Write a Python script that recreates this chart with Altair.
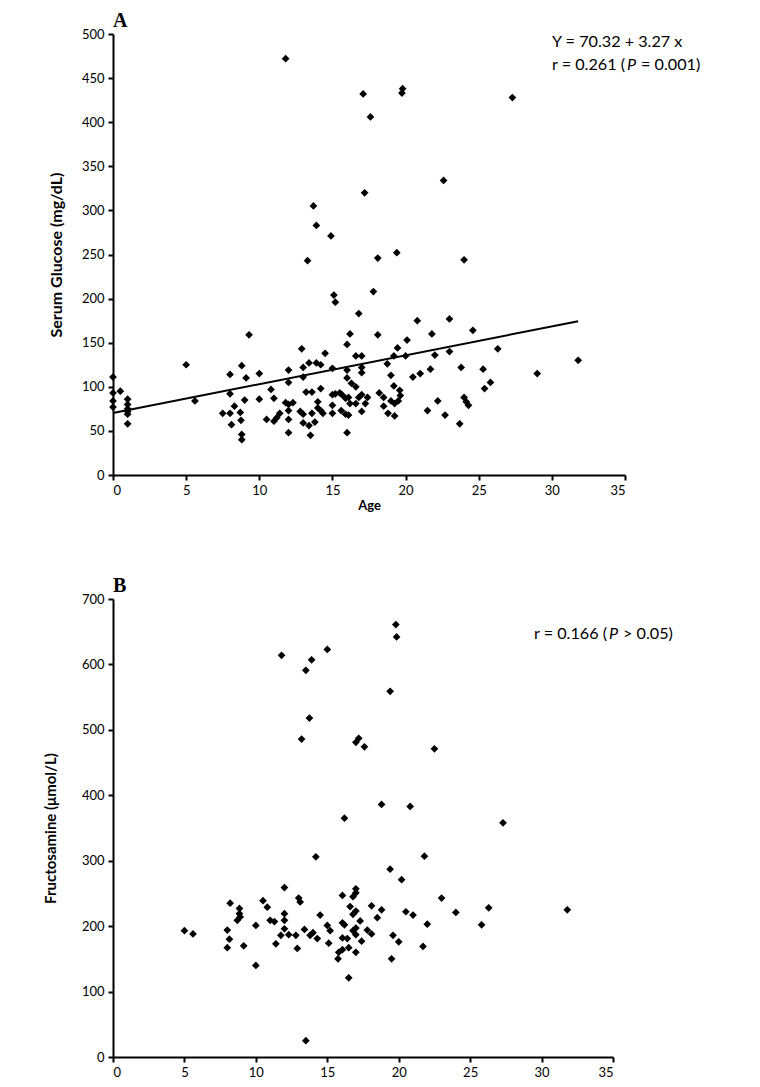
import altair as alt
import pandas as pd

# ---------------- Panel A data: age vs serum glucose ----------------
age_a = [0, 0, 0, 0, 0.5, 1, 1, 1, 1, 1, 1,
         5.0, 5.6, 7.5, 8.0, 8.0, 8.0, 8.1, 8.3, 8.7, 8.8, 8.75, 8.8, 8.8, 9.0, 9.1, 9.3,
         10.0, 10.0, 10.5, 10.8, 11.0, 11.0, 11.2, 11.4, 11.8, 11.8,
         12.0, 12.0, 12.0, 12.0, 12.0, 12.0, 12.3, 12.8, 12.9,
         13.0, 13.0, 13.0, 13.0, 13.2, 13.3, 13.4, 13.4, 13.5, 13.6, 13.6, 13.7, 13.8, 13.9, 13.9,
         14.0, 14.0, 14.2, 14.2, 14.2, 14.35, 14.5, 14.9,
         15.0, 15.0, 15.0, 15.0, 15.1, 15.2, 15.2, 15.5, 15.6, 15.65, 15.9, 15.9,
         16.0, 16.0, 16.0, 16.0, 16.1, 16.1, 16.2, 16.2, 16.3, 16.6, 16.6, 16.6, 16.8, 16.8,
         17.0, 17.0, 17.0, 17.0, 17.0, 17.1, 17.2, 17.25, 17.4, 17.6, 17.8,
         18.1, 18.1, 18.2, 18.5, 18.5, 18.75, 18.8,
         19.0, 19.0, 19.2, 19.2, 19.25, 19.25, 19.4, 19.45, 19.5, 19.6, 19.64, 19.75, 19.8,
         20.0, 20.1, 20.5, 20.8, 21.0, 21.5, 21.7, 21.8, 22.0, 22.2, 22.6, 22.7,
         23.0, 23.0, 23.7, 23.8, 24.0, 24.0, 24.15, 24.3, 24.6,
         25.3, 25.4, 25.8, 26.3, 27.3, 29.0, 31.8]
glucose = [111, 93, 84, 77, 95, 86, 80, 75, 72, 69, 58,
           125, 84, 70, 114, 92, 70, 57, 78, 71, 124, 62, 46, 40, 85, 110, 159,
           115, 86, 63, 97, 87, 61, 65, 70, 82, 472,
           119, 105, 80, 73, 63, 48, 82, 72, 143,
           69, 122, 111, 59, 94, 243, 127, 56, 45, 94, 70, 305, 60, 283, 127,
           83, 76, 125, 98, 73, 70, 138, 271,
           121, 79, 70, 91, 204, 196, 92, 93, 73, 91, 87, 69,
           148, 119, 110, 48, 88, 68, 160, 81, 104, 100, 135, 81, 183, 88,
           135, 122, 116, 91, 72, 432, 320, 81, 88, 406, 208,
           246, 159, 93, 88, 78, 126, 70,
           113, 84, 101, 135, 81, 67, 252, 144, 84, 96, 90, 433, 438,
           135, 153, 111, 175, 115, 73, 120, 160, 136, 84, 334, 68,
           177, 140, 58, 122, 244, 88, 83, 79, 164,
           120, 98, 105, 143, 428, 115, 130]

# regression line  Y = 70.32 + 3.27 x
intercept = 70.32
slope = 3.27

# ---------------- Panel B data: age vs fructosamine ----------------
age_b = [5.0, 5.6, 8.0, 8.15, 8.0, 8.2, 8.7, 8.85, 8.85, 8.9, 9.15,
         10.0, 10.0, 10.5, 10.8, 11.0, 11.3, 11.4, 11.75, 11.8,
         12.0, 12.0, 12.0, 12.0, 12.3, 12.8, 12.9, 13.0, 13.1, 13.2, 13.4, 13.5, 13.5, 13.75, 13.8, 13.9,
         14.0, 14.2, 14.3, 14.5, 15.0, 15.0, 15.1, 15.2, 15.75, 15.8,
         16.06, 16.06, 16.06, 16.06, 16.2, 16.2, 16.4, 16.5, 16.5, 16.6, 16.8, 16.8, 16.8,
         17.2, 17.0, 17.0, 17.0, 17.0, 17.0, 17.0, 17.0, 17.3, 17.4, 17.6, 17.8,
         18.1, 18.1, 18.5, 18.8, 18.8, 19.4, 19.4, 19.5, 19.6, 19.8, 19.85,
         20.0, 20.2, 20.5, 20.8, 21.0, 21.7, 21.8, 22.0, 22.5, 23.0, 24.0,
         25.8, 26.3, 27.3, 31.8]
fructosamine = [193, 188, 194, 180, 167, 235, 209, 227, 219, 214, 170,
                201, 140, 239, 229, 209, 207, 173, 186, 614,
                259, 219, 209, 196, 187, 186, 166, 243, 237, 486, 195, 591, 25, 518, 186, 607,
                190, 306, 181, 217, 623, 201, 174, 193, 150, 160,
                247, 205, 182, 164, 365, 202, 181, 167, 121, 230, 245, 218, 193,
                487, 481, 257, 251, 223, 197, 187, 160, 208, 177, 474, 194,
                231, 188, 213, 386, 225, 559, 287, 150, 186, 661, 642,
                176, 271, 222, 383, 217, 169, 307, 203, 471, 243, 221,
                202, 228, 358, 225]

x_ticks = [0, 5, 10, 15, 20, 25, 30, 35]
glucose_ticks = [0, 50, 100, 150, 200, 250, 300, 350, 400, 450, 500]
fructo_ticks = [0, 100, 200, 300, 400, 500, 600, 700]

FONT = "Lato"
ANN_SIZE = 16.2

df_a = pd.DataFrame({"age": age_a, "value": glucose})
df_b = pd.DataFrame({"age": age_b, "value": fructosamine})
line_x = [0, max(age_a)]
df_line = pd.DataFrame({"age": line_x, "value": [intercept + slope * v for v in line_x]})


def panel(df, ydomain, yticks, ytitle, xtitle, ytitle_pad, ytitle_size, letter):
    x = alt.X("age:Q", scale=alt.Scale(domain=[0, 35], nice=False),
              axis=alt.Axis(values=x_ticks, title=xtitle, titleFontWeight="bold",
                            titleFontSize=13, titlePadding=2))
    y = alt.Y("value:Q", scale=alt.Scale(domain=ydomain, nice=False),
              axis=alt.Axis(values=yticks, title=ytitle, titleFontWeight="bold",
                            titleFontSize=ytitle_size, titlePadding=ytitle_pad))
    pts = alt.Chart(df).mark_point(shape="diamond", filled=True, color="black",
                                   size=60, opacity=1).encode(x=x, y=y)
    lab = alt.Chart(pd.DataFrame({"t": [letter]})).mark_text(
        font="Liberation Serif", fontSize=20, fontWeight="bold",
        align="left", baseline="alphabetic", color="black"
    ).encode(x=alt.value(0), y=alt.value(-7), text="t:N")
    return pts, lab


def txt(s, x, y, italic=False):
    kw = dict(font=FONT, fontSize=ANN_SIZE, align="left", baseline="middle", color="black")
    if italic:
        kw["fontStyle"] = "italic"
    return alt.Chart(pd.DataFrame({"t": [s]})).mark_text(**kw).encode(
        x=alt.value(x), y=alt.value(y), text="t:N")


pts_a, lab_a = panel(df_a, [0, 500], glucose_ticks,
                     "Serum Glucose (mg/dL)", "Age", 17, 16, "A")
reg = alt.Chart(df_line).mark_line(color="black", strokeWidth=2).encode(
    x="age:Q", y="value:Q")
ann_a = [txt("Y = 70.32 + 3.27 x", 439, 8),
         txt("r = 0.261 (", 439, 31),
         txt("P", 439 + 75, 31, italic=True),
         txt("= 0.001)", 439 + 89, 31)]
chart_a = alt.layer(pts_a, reg, lab_a, *ann_a).properties(width=512, height=441)

pts_b, lab_b = panel(df_b, [0, 700], fructo_ticks,
                     "Fructosamine (\u03bcmol/L)", "", 23, 15, "B")
ann_b = [txt("r = 0.166 (", 421, 35),
         txt("P", 421 + 75, 35, italic=True),
         txt("> 0.05)", 421 + 89, 35)]
chart_b = alt.layer(pts_b, lab_b, *ann_b).properties(width=500, height=458)

chart = alt.vconcat(chart_a, chart_b, spacing=124, bounds="flush").properties(
    padding={"top": 3, "left": 35, "right": 0, "bottom": 0}
).configure_view(stroke=None).configure_axis(
    grid=False, domainColor="black", domainWidth=2, tickColor="black", tickWidth=2,
    tickSize=5, labelColor="black", labelFont=FONT, labelFontSize=13, labelPadding=4,
    titleColor="black", titleFont=FONT
)

chart.save("out.html", embed_options={"renderer": "svg", "actions": False})
